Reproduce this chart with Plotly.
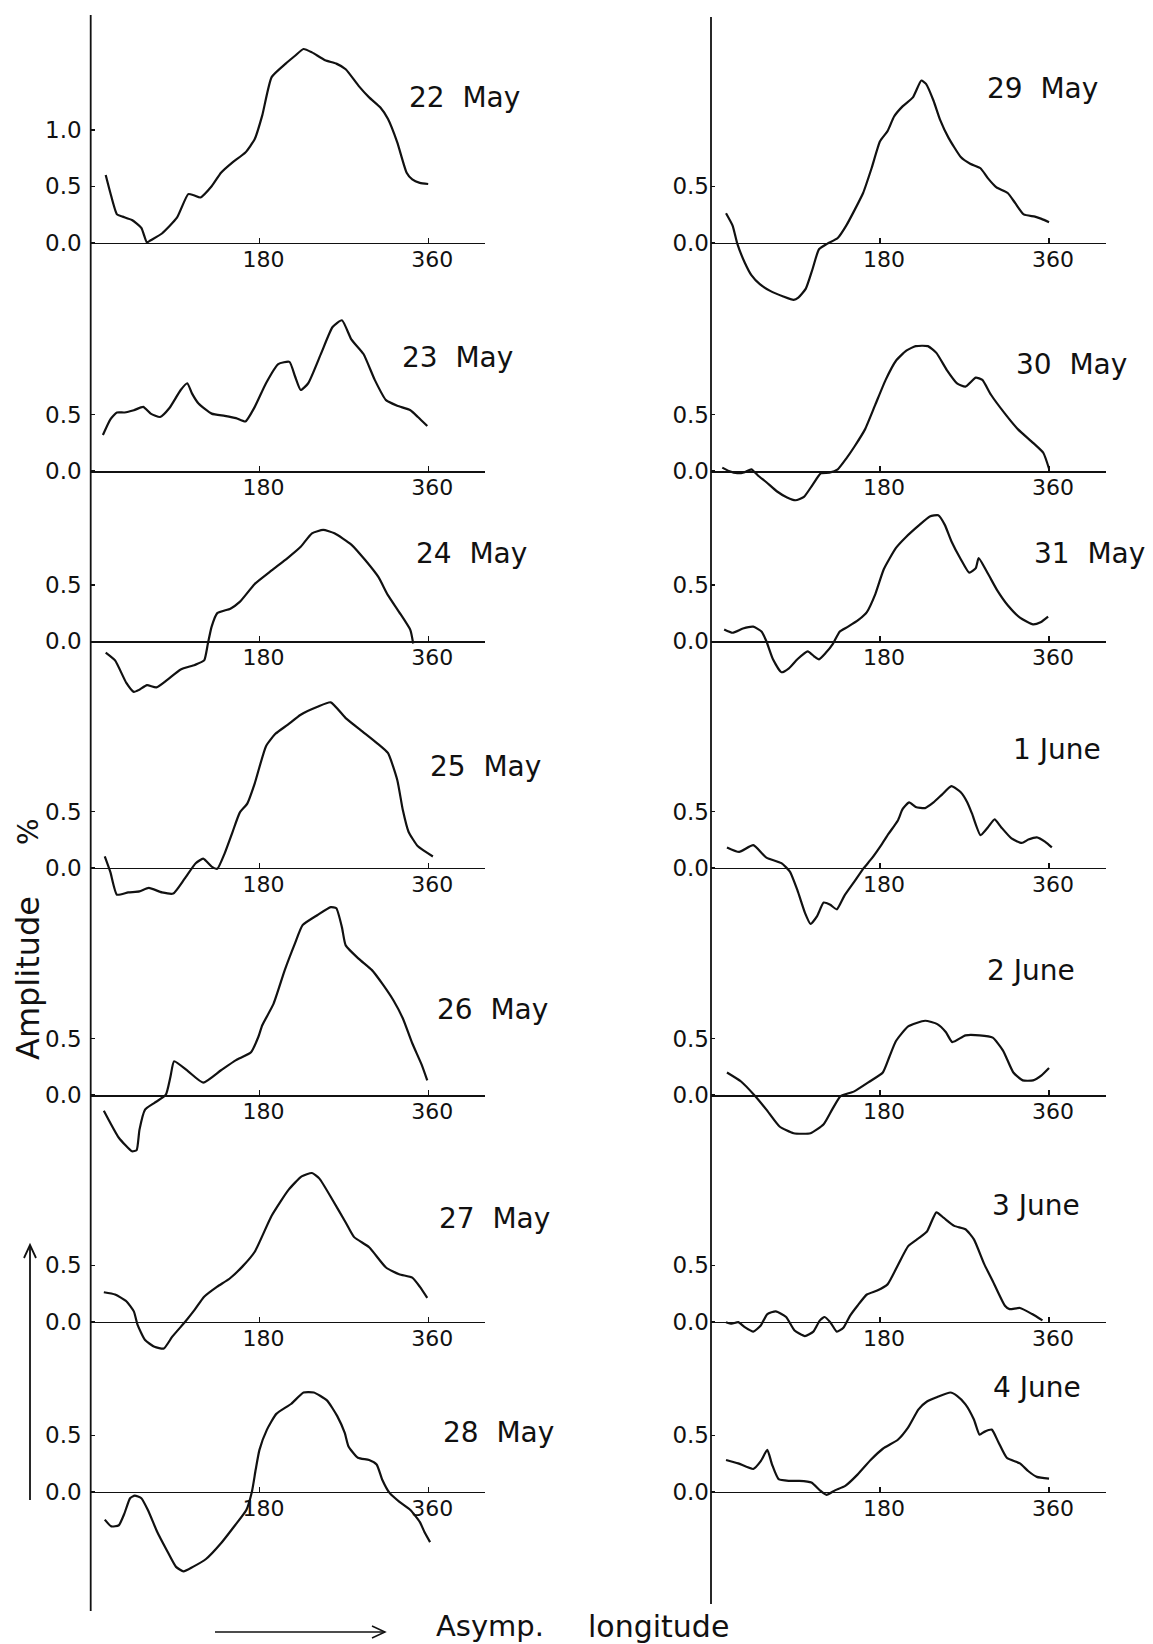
import plotly.graph_objects as go

W, H = 1153, 1644

# ---------------- data (asymptotic longitude in degrees, amplitude in %) ----------------
lon_22may = [16, 21, 28, 34, 44, 54, 60, 64, 76, 92, 104, 110, 117, 129, 139, 151, 165, 175, 183, 193, 208, 218, 227, 236, 250, 262, 272, 286, 297, 309, 317, 327, 337, 343, 351, 360]
amp_22may = [0.60, 0.44, 0.25, 0.23, 0.20, 0.13, 0.0, 0.02, 0.08, 0.22, 0.43, 0.42, 0.40, 0.50, 0.62, 0.71, 0.80, 0.92, 1.13, 1.47, 1.59, 1.66, 1.72, 1.69, 1.62, 1.59, 1.54, 1.39, 1.29, 1.20, 1.10, 0.89, 0.62, 0.56, 0.53, 0.52]

lon_23may = [13, 21, 28, 36, 46, 56, 64, 74, 84, 96, 103, 108, 115, 129, 143, 155, 165, 175, 187, 200, 212, 218, 224, 232, 246, 258, 268, 278, 291, 303, 315, 327, 341, 349, 359]
amp_23may = [0.32, 0.46, 0.52, 0.52, 0.54, 0.57, 0.51, 0.48, 0.56, 0.72, 0.78, 0.69, 0.60, 0.51, 0.49, 0.47, 0.44, 0.57, 0.78, 0.95, 0.97, 0.84, 0.72, 0.78, 1.05, 1.28, 1.34, 1.17, 1.04, 0.81, 0.63, 0.58, 0.54, 0.48, 0.40]

lon_24may = [16, 26, 38, 46, 52, 60, 70, 82, 96, 111, 121, 125, 129, 135, 149, 159, 175, 193, 210, 224, 236, 248, 260, 278, 293, 307, 317, 329, 341, 344]
amp_24may = [-0.10, -0.17, -0.37, -0.45, -0.43, -0.39, -0.41, -0.34, -0.25, -0.21, -0.17, -0.02, 0.13, 0.25, 0.29, 0.35, 0.51, 0.63, 0.74, 0.84, 0.96, 0.99, 0.96, 0.86, 0.72, 0.57, 0.41, 0.26, 0.10, -0.02]

lon_25may = [15, 21, 28, 40, 52, 62, 76, 88, 100, 112, 120, 129, 135, 143, 151, 159, 167, 175, 187, 197, 210, 224, 242, 256, 272, 290, 305, 317, 327, 333, 339, 349, 365]
amp_25may = [0.10, -0.04, -0.24, -0.22, -0.21, -0.18, -0.22, -0.23, -0.10, 0.04, 0.08, 0.01, -0.01, 0.13, 0.31, 0.49, 0.57, 0.75, 1.08, 1.19, 1.27, 1.36, 1.43, 1.47, 1.33, 1.21, 1.11, 1.02, 0.78, 0.51, 0.32, 0.19, 0.10]

lon_26may = [14, 30, 44, 49, 52, 58, 68, 80, 85, 89, 104, 120, 139, 155, 171, 179, 183, 195, 207, 218, 226, 242, 256, 262, 268, 272, 286, 300, 311, 323, 333, 343, 353, 359]
amp_26may = [-0.14, -0.38, -0.50, -0.49, -0.31, -0.13, -0.07, 0.0, 0.16, 0.30, 0.21, 0.11, 0.22, 0.31, 0.38, 0.52, 0.62, 0.81, 1.11, 1.35, 1.51, 1.60, 1.67, 1.66, 1.49, 1.33, 1.21, 1.11, 0.99, 0.84, 0.68, 0.46, 0.27, 0.13]

lon_27may = [14, 26, 38, 46, 50, 58, 68, 78, 87, 101, 111, 121, 135, 148, 162, 175, 193, 211, 225, 236, 244, 258, 272, 281, 297, 315, 329, 343, 351, 359]
amp_27may = [0.26, 0.24, 0.18, 0.09, -0.03, -0.165, -0.225, -0.24, -0.135, 0.0, 0.105, 0.22, 0.31, 0.38, 0.49, 0.62, 0.94, 1.17, 1.29, 1.32, 1.27, 1.08, 0.88, 0.75, 0.66, 0.48, 0.42, 0.39, 0.31, 0.21]

lon_28may = [15, 22, 30, 36, 42, 47, 54, 61, 71, 81, 91, 99, 109, 123, 139, 154, 166, 172, 176, 180, 188, 198, 214, 227, 238, 252, 263, 271, 275, 285, 297, 305, 311, 319, 329, 341, 351, 356, 362]
amp_28may = [-0.25, -0.31, -0.30, -0.195, -0.06, -0.036, -0.06, -0.165, -0.36, -0.52, -0.67, -0.71, -0.67, -0.60, -0.46, -0.30, -0.165, 0.0, 0.195, 0.37, 0.55, 0.69, 0.78, 0.88, 0.88, 0.81, 0.67, 0.52, 0.40, 0.30, 0.28, 0.24, 0.105, -0.015, -0.09, -0.165, -0.27, -0.36, -0.45]

lon_29may = [16, 23, 28, 36, 43, 52, 63, 77, 88, 93, 101, 108, 115, 124, 135, 144, 153, 162, 171, 180, 188, 195, 204, 215, 224, 229, 237, 244, 253, 266, 276, 287, 295, 304, 316, 324, 333, 345, 352, 360]
amp_29may = [0.26, 0.15, -0.01, -0.18, -0.29, -0.37, -0.43, -0.48, -0.51, -0.49, -0.41, -0.24, -0.06, -0.01, 0.04, 0.15, 0.29, 0.44, 0.66, 0.90, 0.99, 1.12, 1.21, 1.29, 1.44, 1.41, 1.26, 1.09, 0.93, 0.76, 0.70, 0.66, 0.57, 0.49, 0.44, 0.35, 0.25, 0.23, 0.21, 0.18]

lon_30may = [12, 19, 28, 36, 43, 50, 59, 70, 81, 90, 99, 108, 117, 126, 135, 144, 153, 164, 175, 186, 197, 208, 218, 231, 240, 251, 262, 271, 282, 289, 298, 313, 327, 343, 354, 360]
amp_30may = [0.03, 0.0, -0.02, -0.01, 0.015, -0.04, -0.10, -0.18, -0.235, -0.26, -0.23, -0.125, -0.02, -0.015, 0.015, 0.11, 0.22, 0.37, 0.59, 0.81, 0.98, 1.07, 1.11, 1.11, 1.05, 0.90, 0.78, 0.75, 0.83, 0.81, 0.68, 0.51, 0.37, 0.25, 0.16, 0.02]

lon_31may = [14, 23, 34, 45, 54, 59, 66, 75, 83, 92, 103, 110, 115, 122, 130, 137, 146, 157, 166, 175, 184, 197, 208, 222, 233, 242, 249, 256, 266, 275, 282, 285, 295, 305, 316, 329, 343, 351, 359]
amp_31may = [0.105, 0.076, 0.114, 0.13, 0.085, 0.0, -0.16, -0.275, -0.24, -0.16, -0.09, -0.135, -0.16, -0.105, -0.02, 0.085, 0.13, 0.19, 0.26, 0.42, 0.64, 0.83, 0.93, 1.035, 1.11, 1.12, 1.035, 0.89, 0.73, 0.61, 0.65, 0.74, 0.60, 0.45, 0.32, 0.21, 0.15, 0.17, 0.22]

lon_1jun = [17, 30, 45, 59, 75, 84, 92, 100, 106, 113, 120, 127, 134, 142, 153, 163, 171, 182, 189, 199, 204, 211, 218, 228, 237, 246, 256, 266, 273, 278, 287, 295, 302, 309, 320, 331, 338, 347, 356, 363]
amp_1jun = [0.18, 0.14, 0.20, 0.09, 0.04, -0.035, -0.20, -0.40, -0.50, -0.43, -0.31, -0.33, -0.37, -0.25, -0.12, 0.0, 0.08, 0.21, 0.30, 0.42, 0.52, 0.58, 0.54, 0.53, 0.58, 0.65, 0.725, 0.67, 0.58, 0.48, 0.29, 0.36, 0.43, 0.36, 0.26, 0.22, 0.25, 0.27, 0.23, 0.18]

lon_2jun = [17, 32, 46, 59, 73, 88, 106, 120, 129, 138, 152, 169, 183, 190, 197, 210, 228, 241, 250, 257, 271, 286, 300, 311, 322, 332, 343, 352, 360]
amp_2jun = [0.20, 0.12, 0.0, -0.13, -0.28, -0.34, -0.34, -0.26, -0.13, -0.01, 0.03, 0.12, 0.20, 0.34, 0.48, 0.61, 0.66, 0.63, 0.56, 0.47, 0.53, 0.53, 0.51, 0.395, 0.20, 0.13, 0.13, 0.175, 0.24]

lon_3jun = [16, 22, 29, 36, 45, 53, 60, 69, 80, 89, 100, 109, 116, 121, 127, 134, 141, 148, 156, 166, 177, 188, 199, 210, 221, 230, 240, 248, 259, 271, 280, 291, 300, 313, 318, 329, 342, 353]
amp_3jun = [-0.006, -0.02, -0.006, -0.05, -0.09, -0.035, 0.066, 0.09, 0.04, -0.08, -0.13, -0.09, 0.01, 0.04, -0.006, -0.09, -0.055, 0.05, 0.14, 0.24, 0.275, 0.33, 0.50, 0.67, 0.74, 0.80, 0.97, 0.92, 0.85, 0.82, 0.73, 0.51, 0.36, 0.14, 0.11, 0.12, 0.066, 0.01]

lon_4jun = [16, 29, 45, 53, 60, 65, 72, 83, 94, 107, 116, 123, 132, 143, 156, 170, 183, 199, 210, 221, 230, 241, 255, 262, 271, 280, 286, 291, 299, 306, 315, 329, 338, 347, 360]
amp_4jun = [0.28, 0.25, 0.20, 0.27, 0.37, 0.24, 0.11, 0.095, 0.095, 0.08, 0.01, -0.03, 0.01, 0.05, 0.15, 0.28, 0.38, 0.46, 0.57, 0.73, 0.80, 0.84, 0.88, 0.85, 0.775, 0.64, 0.505, 0.53, 0.55, 0.44, 0.30, 0.25, 0.18, 0.13, 0.115]

date_labels = ["22  May", "23  May", "24  May", "25  May", "26  May", "27  May", "28  May",
               "29  May", "30  May", "31  May", "1 June", "2 June", "3 June", "4 June"]
lon_ticks = [180, 360]
lon_tick_text = ["180", "360"]
amp_ticks_big = [0.0, 0.5, 1.0]
amp_ticks = [0.0, 0.5]
y_title = "Amplitude"
y_unit = "%"
x_title_1 = "Asymp."
x_title_2 = "longitude"

series = [
    (lon_22may, amp_22may, amp_ticks_big), (lon_23may, amp_23may, amp_ticks),
    (lon_24may, amp_24may, amp_ticks), (lon_25may, amp_25may, amp_ticks),
    (lon_26may, amp_26may, amp_ticks), (lon_27may, amp_27may, amp_ticks),
    (lon_28may, amp_28may, amp_ticks),
    (lon_29may, amp_29may, amp_ticks), (lon_30may, amp_30may, amp_ticks),
    (lon_31may, amp_31may, amp_ticks), (lon_1jun, amp_1jun, amp_ticks),
    (lon_2jun, amp_2jun, amp_ticks), (lon_3jun, amp_3jun, amp_ticks),
    (lon_4jun, amp_4jun, amp_ticks),
]

# ---------------- layout geometry (pixels) ----------------
ROW_ZERO = [242.5, 471.0, 641.3, 867.7, 1095.0, 1321.5, 1491.5]
COL_ORIGIN = [90.7, 711.0]
COL_PXDEG = [0.9375, 0.939]
PX_PER_UNIT = 112.5
XMAX = 421
YMIN, YMAX = -0.8, 1.85
LABEL_POS = [(407, 98), (400, 357), (414, 553), (428, 766), (435, 1009), (437, 1218), (441, 1432),
             (985, 88), (1014, 365), (1032, 553), (1011, 749), (985, 970), (990, 1205), (991, 1387)]
YLAB_STANDOFF = [8, 1]

FONT = "DejaVu Sans"
INK = "#111111"


def px(x):
    return x / W


def py(y):
    return 1 - y / H


fig = go.Figure()
layout = {}
annotations = []
for i, (lon, amp, yt) in enumerate(series):
    col, row = divmod(i, 7)
    n = i + 1
    key = "" if n == 1 else str(n)
    xa, ya = f"x{key}", f"y{key}"
    fig.add_trace(go.Scatter(
        x=lon, y=amp, mode="lines",
        line=dict(color=INK, width=2.2, shape="spline", smoothing=0.5),
        xaxis=xa, yaxis=ya, showlegend=False, hoverinfo="skip"))
    x0 = COL_ORIGIN[col]
    x1 = x0 + XMAX * COL_PXDEG[col]
    z = ROW_ZERO[row]
    ytop = z - YMAX * PX_PER_UNIT
    ybot = z - YMIN * PX_PER_UNIT
    layout[f"xaxis{key}"] = dict(
        domain=[px(x0), px(x1)], range=[0, XMAX], anchor="free", position=py(z),
        showline=True, linecolor=INK, linewidth=1.6,
        ticks="inside", ticklen=5, tickwidth=1.4, tickcolor=INK,
        tickvals=lon_ticks, ticktext=lon_tick_text,
        tickfont=dict(family=FONT, size=22, color=INK),
        ticklabelstandoff=-4, ticklabelshift=4,
        showgrid=False, zeroline=False, fixedrange=True)
    layout[f"yaxis{key}"] = dict(
        domain=[py(ybot), py(ytop)], range=[YMIN, YMAX], anchor=xa,
        showline=False, ticks="inside", ticklen=4, tickwidth=1.4, tickcolor=INK,
        tickvals=yt, tickformat=".1f",
        tickfont=dict(family=FONT, size=23, color=INK),
        ticklabelstandoff=YLAB_STANDOFF[col],
        showgrid=False, zeroline=False, fixedrange=True)
    lx, ly = LABEL_POS[i]
    annotations.append(dict(
        text=date_labels[i], x=px(lx), y=py(ly), xref="paper", yref="paper",
        xanchor="left", yanchor="middle", showarrow=False,
        font=dict(family=FONT, size=28, color=INK)))

# axis titles
annotations.append(dict(text=y_title, x=px(28), y=py(978), xref="paper", yref="paper",
                        textangle=-90, showarrow=False, xanchor="center", yanchor="middle",
                        font=dict(family=FONT, size=32, color=INK)))
annotations.append(dict(text=y_unit, x=px(28), y=py(832), xref="paper", yref="paper",
                        textangle=-90, showarrow=False, xanchor="center", yanchor="middle",
                        font=dict(family=FONT, size=28, color=INK)))
annotations.append(dict(text=x_title_1, x=px(490), y=py(1626), xref="paper", yref="paper",
                        showarrow=False, xanchor="center", yanchor="middle",
                        font=dict(family=FONT, size=29, color=INK)))
annotations.append(dict(text=x_title_2, x=px(658), y=py(1626), xref="paper", yref="paper",
                        showarrow=False, xanchor="center", yanchor="middle",
                        font=dict(family=FONT, size=30, color=INK)))

shapes = []
# long vertical axis lines of both columns
shapes.append(dict(type="line", xref="paper", yref="paper", x0=px(90.7), x1=px(90.7),
                   y0=py(15), y1=py(1611), line=dict(color=INK, width=1.8)))
shapes.append(dict(type="line", xref="paper", yref="paper", x0=px(711), x1=px(711),
                   y0=py(17), y1=py(1604), line=dict(color=INK, width=1.8)))
# upward arrow beside the amplitude title
shapes.append(dict(type="line", xref="paper", yref="paper", x0=px(30), x1=px(30),
                   y0=py(1500), y1=py(1245), line=dict(color=INK, width=1.8)))
shapes.append(dict(type="path", xref="paper", yref="paper",
                   path=f"M {px(24)},{py(1258)} L {px(30)},{py(1245)} L {px(36)},{py(1258)}",
                   line=dict(color=INK, width=1.8)))
# rightward arrow before the longitude title
shapes.append(dict(type="line", xref="paper", yref="paper", x0=px(215), x1=px(385),
                   y0=py(1632), y1=py(1632), line=dict(color=INK, width=1.5)))
shapes.append(dict(type="path", xref="paper", yref="paper",
                   path=f"M {px(372)},{py(1626)} L {px(385)},{py(1632)} L {px(372)},{py(1638)}",
                   line=dict(color=INK, width=1.5)))

fig.update_layout(
    width=W, height=H, margin=dict(l=0, r=0, t=0, b=0),
    paper_bgcolor="white", plot_bgcolor="rgba(0,0,0,0)",
    showlegend=False, annotations=annotations, shapes=shapes,
    font=dict(family=FONT, color=INK),
    **layout)

fig.write_html("out.html", config=dict(displayModeBar=False, staticPlot=True))
